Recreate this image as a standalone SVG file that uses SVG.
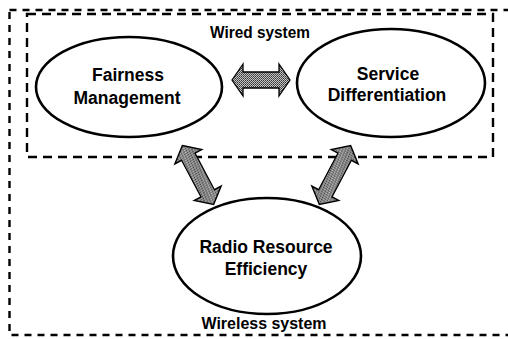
<svg xmlns="http://www.w3.org/2000/svg" width="508" height="339" viewBox="0 0 508 339">
  <style>
    .bg { fill: #ffffff; }
    .zone { fill: none; stroke: #000; stroke-width: 2.4; }
    .outer { stroke-dasharray: 7 6; }
    .inner { stroke-dasharray: 9 6; }
    .node { fill: #ffffff; stroke: #000; stroke-width: 2.6; }
    .label { font-family: "Liberation Sans", Arial, sans-serif; font-weight: bold; font-size: 17.5px; fill: #000; text-anchor: middle; }
    .zone-label { font-family: "Liberation Sans", Arial, sans-serif; font-weight: bold; font-size: 16.5px; fill: #000; text-anchor: middle; }
    .arrow { fill: url(#halftone); stroke: #000; stroke-width: 1.3; stroke-linejoin: miter; }
  </style>
  <defs>
    <!-- grainy grey fill for the block arrows -->
    <pattern id="halftone" width="2" height="2" patternUnits="userSpaceOnUse">
      <rect width="2" height="2" fill="#c4c4c4"/>
      <rect x="0" y="0" width="1" height="1" fill="#333"/>
      <rect x="1" y="1" width="1" height="1" fill="#555"/>
    </pattern>
    <!-- double-headed block arrow, 58 long, centred on the origin -->
    <path id="dbl-arrow" d="M -29,0 L -18,-16 L -18,-8 L 18,-8 L 18,-16 L 29,0 L 18,16 L 18,8 L -18,8 L -18,16 Z"/>
  </defs>

  <rect class="bg" width="508" height="339"/>

  <!-- system boundaries -->
  <g id="wireless-system">
    <rect class="zone outer" x="9.5" y="10" width="505" height="325"/>
    <text class="zone-label" x="264" y="329" textLength="125" lengthAdjust="spacingAndGlyphs">Wireless system</text>
  </g>
  <g id="wired-system">
    <rect class="zone inner" x="27" y="14" width="466" height="143"/>
    <text class="zone-label" x="260" y="38" textLength="100" lengthAdjust="spacingAndGlyphs">Wired system</text>
  </g>

  <!-- nodes -->
  <g id="node-fairness">
    <ellipse class="node" cx="129" cy="87" rx="93" ry="50"/>
    <text class="label" x="128" y="81">Fairness</text>
    <text class="label" x="127" y="104">Management</text>
  </g>
  <g id="node-service">
    <ellipse class="node" cx="391" cy="83" rx="94" ry="54"/>
    <text class="label" x="388" y="80">Service</text>
    <text class="label" x="387" y="101">Differentiation</text>
  </g>
  <g id="node-radio">
    <ellipse class="node" cx="267" cy="256" rx="94" ry="58"/>
    <text class="label" x="266" y="253">Radio Resource</text>
    <text class="label" x="266" y="275">Efficiency</text>
  </g>

  <!-- connectors -->
  <g id="connectors">
    <use class="arrow" href="#dbl-arrow" transform="translate(261,80)"/>
    <use class="arrow" href="#dbl-arrow" transform="translate(198,175) rotate(62) scale(1.15,0.95)"/>
    <use class="arrow" href="#dbl-arrow" transform="translate(335,175) rotate(118) scale(1.15,0.95)"/>
  </g>
</svg>
